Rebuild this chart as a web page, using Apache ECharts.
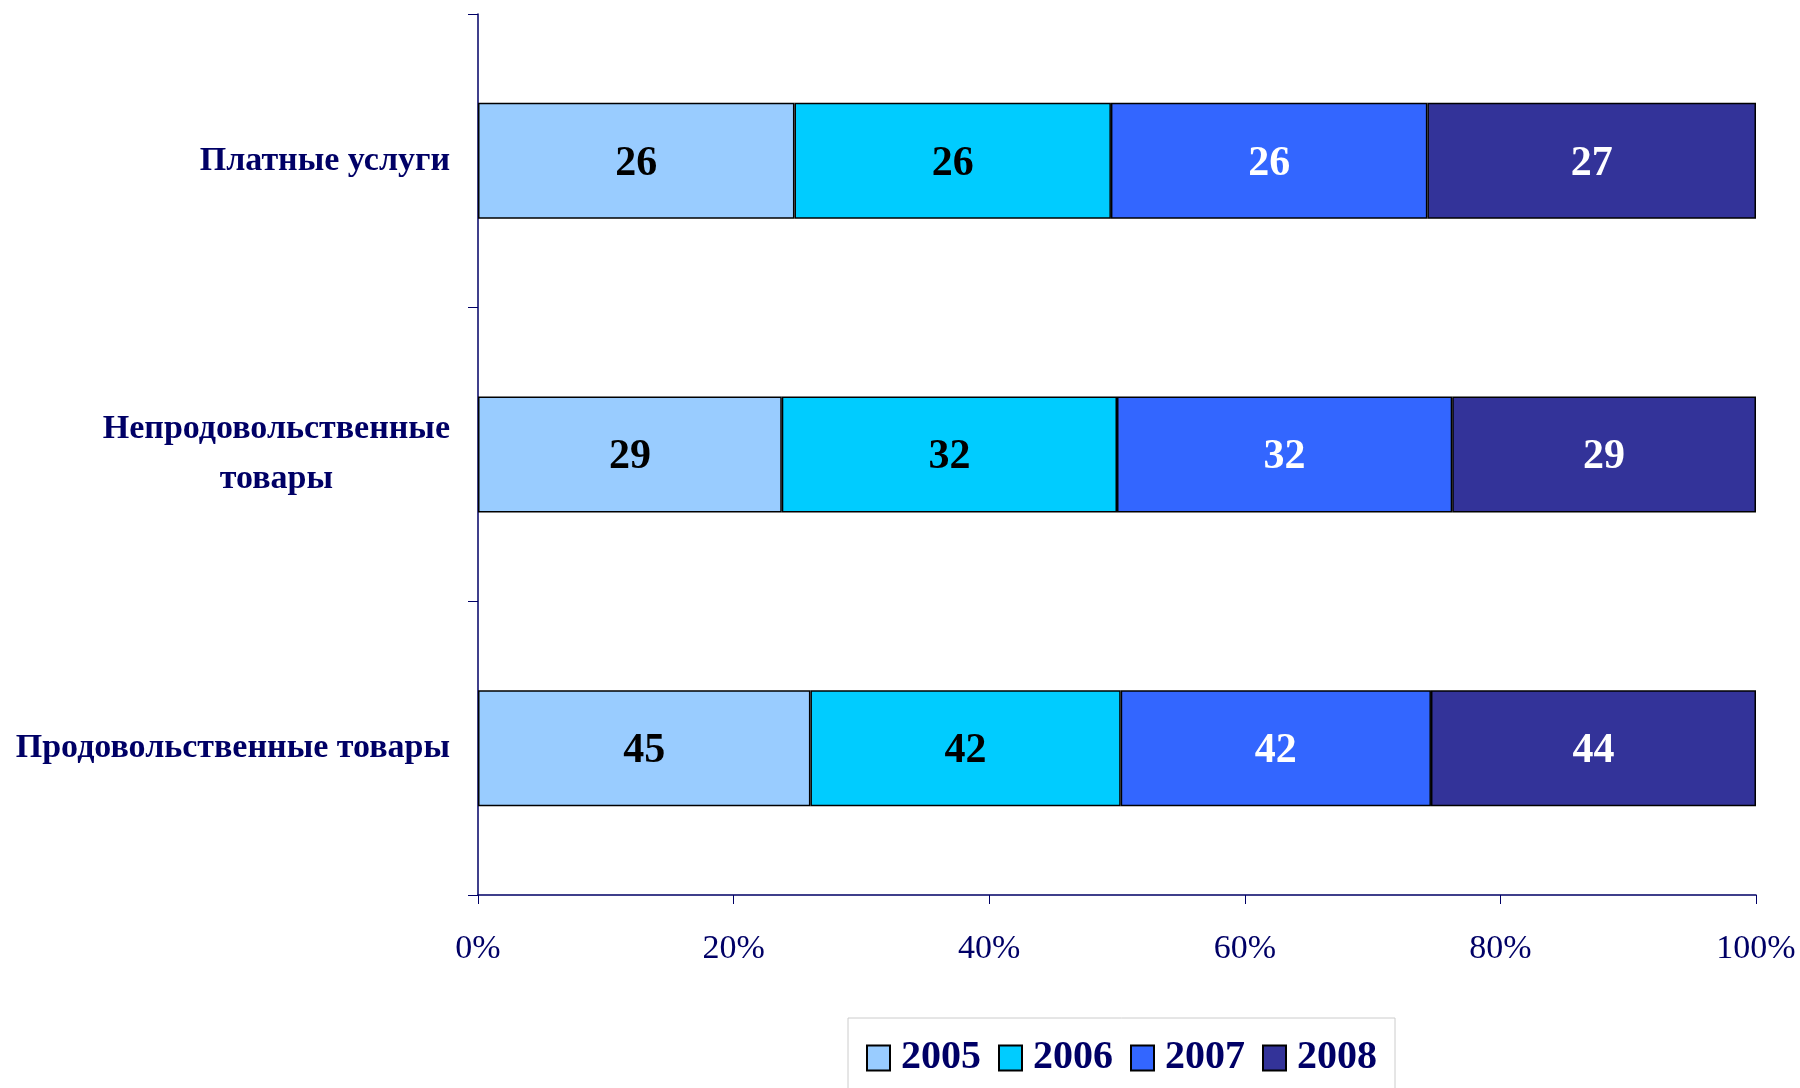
<!DOCTYPE html>
<html>
<head>
<meta charset="utf-8">
<script src="https://cdn.jsdelivr.net/npm/echarts@6/dist/echarts.min.js"></script>
<style>
html,body{margin:0;padding:0;background:#fff;}
#chart{width:1800px;height:1088px;}
</style>
</head>
<body>
<div id="chart"></div>
<script>
// Categories listed bottom to top
const categories = ['Продовольственные товары', 'Непродовольственные товары', 'Платные услуги'];
const years = ['2005', '2006', '2007', '2008'];
const v2005 = [45, 29, 26];
const v2006 = [42, 32, 26];
const v2007 = [42, 32, 26];
const v2008 = [44, 29, 27];
const xTicks = [0, 20, 40, 60, 80, 100];

const raw = [v2005, v2006, v2007, v2008];
const colors = ['#99CCFF', '#00CCFF', '#3366FF', '#333399'];
const labelColors = ['#000000', '#000000', '#FFFFFF', '#FFFFFF'];
const totals = categories.map((c, i) => raw.reduce((s, arr) => s + arr[i], 0));
const navy = '#000066';
const serif = '"Liberation Serif", "Times New Roman", serif';

const series = years.map((y, si) => ({
  name: y,
  type: 'bar',
  stack: 'total',
  barWidth: '39.5%',
  data: raw[si].map((v, i) => v / totals[i] * 100),
  itemStyle: { color: colors[si], borderColor: '#000000', borderWidth: 1.5 },
  label: {
    show: true,
    position: 'inside',
    offset: [0, 3],
    formatter: p => String(raw[p.seriesIndex][p.dataIndex]),
    color: labelColors[si],
    fontFamily: serif,
    fontWeight: 'bold',
    fontSize: 42
  },
  emphasis: { disabled: true }
}));

const chart = echarts.init(document.getElementById('chart'), null, { renderer: 'canvas' });
chart.setOption({
  animation: false,
  backgroundColor: '#ffffff',
  grid: { left: 478, right: 44, top: 14, bottom: 193, containLabel: false },
  xAxis: {
    type: 'value',
    min: xTicks[0],
    max: xTicks[xTicks.length - 1],
    interval: xTicks[1] - xTicks[0],
    axisLine: { show: true, lineStyle: { color: navy, width: 1.5 } },
    axisTick: { show: true, length: 9, lineStyle: { color: navy, width: 1 } },
    splitLine: { show: false },
    axisLabel: {
      formatter: '{value}%',
      color: navy,
      fontFamily: serif,
      fontSize: 34,
      margin: 37
    }
  },
  yAxis: {
    type: 'category',
    data: categories,
    axisLine: { show: true, lineStyle: { color: navy, width: 1.5 } },
    axisTick: { show: true, length: 10, lineStyle: { color: navy, width: 1 } },
    axisLabel: {
      margin: 28,
      color: navy,
      fontFamily: serif,
      fontWeight: 'bold',
      fontSize: 34,
      lineHeight: 50,
      formatter: v => {
        if (v === 'Непродовольственные товары') return '{c|Непродовольственные}\n{c|товары}';
        return '{c|' + v + '}';
      },
      rich: {
        c: { align: 'center', color: navy, fontFamily: serif, fontWeight: 'bold', fontSize: 34, lineHeight: 50 }
      }
    }
  },
  legend: {
    data: years,
    left: 848,
    top: 1018,
    orient: 'horizontal',
    icon: 'rect',
    itemWidth: 23,
    itemHeight: 25,
    itemGap: 17,
    padding: [20, 18, 30, 18],
    borderColor: '#cccccc',
    borderWidth: 1,
    textStyle: { color: navy, fontFamily: serif, fontWeight: 'bold', fontSize: 40, padding: [0, 0, 0, 6] },
    itemStyle: { borderColor: '#000000', borderWidth: 2 }
  },
  series: series
});
</script>
</body>
</html>
